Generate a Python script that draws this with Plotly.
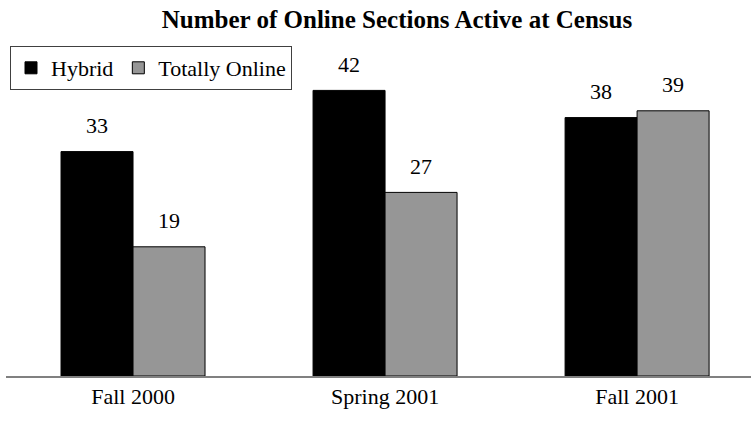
import plotly.graph_objects as go

categories = ["Fall 2000", "Spring 2001", "Fall 2001"]
hybrid = [33, 42, 38]
totally_online = [19, 27, 39]
series_names = ["Hybrid", "Totally Online"]
title_text = "Number of Online Sections Active at Census"

FONT = "Liberation Serif"
BLACK = "#000000"
GRAY = "#969696"

W, H = 751, 421
ML, MR, MT, MB = 6, 0, 36, 45
PW, PH = W - ML - MR, H - MT - MB

fig = go.Figure()
fig.add_trace(go.Bar(x=categories, y=hybrid, name=series_names[0],
                     marker=dict(color=BLACK, line=dict(color=BLACK, width=1))))
fig.add_trace(go.Bar(x=categories, y=totally_online, name=series_names[1],
                     marker=dict(color=GRAY, line=dict(color=BLACK, width=1))))

# value labels above bars
for vals, shift in ((hybrid, -36), (totally_online, 36)):
    for c, v in zip(categories, vals):
        fig.add_annotation(x=c, y=v, xref="x", yref="y", text=str(v),
                           showarrow=False, xshift=shift, yshift=26,
                           yanchor="middle", xanchor="center",
                           font=dict(family=FONT, size=22, color="#000"))

fig.update_layout(
    width=W, height=H,
    margin=dict(l=ML, r=MR, t=MT, b=MB, autoexpand=False),
    paper_bgcolor="white", plot_bgcolor="white",
    barmode="group", bargap=0.4286, bargroupgap=0,
    font=dict(family=FONT, size=22, color="#000"),
    title=dict(text="<b>" + title_text + "</b>", x=397/W, xref="container",
               xanchor="center", y=1 - 19/H, yref="container", yanchor="middle",
               font=dict(family=FONT, size=25, color="#000")),
    legend=dict(orientation="h", xref="paper", yref="paper",
                x=(10 - ML)/PW, y=1 - (46 - MT)/PH, xanchor="left", yanchor="top",
                bgcolor="white", bordercolor="#404040", borderwidth=1,
                font=dict(family=FONT, size=22, color="#000"),
                itemwidth=30, traceorder="normal"),
    showlegend=True,
    xaxis=dict(range=[-0.504, 2.452], showgrid=False, zeroline=False,
               showline=True, linecolor="#808080", linewidth=2,
               ticks="", ticklabelstandoff=0, automargin=False,
               tickfont=dict(family=FONT, size=22, color="#000")),
    yaxis=dict(range=[0, 50], visible=False, showgrid=False, zeroline=False,
               automargin=False),
)

fig.write_html("out.html")
